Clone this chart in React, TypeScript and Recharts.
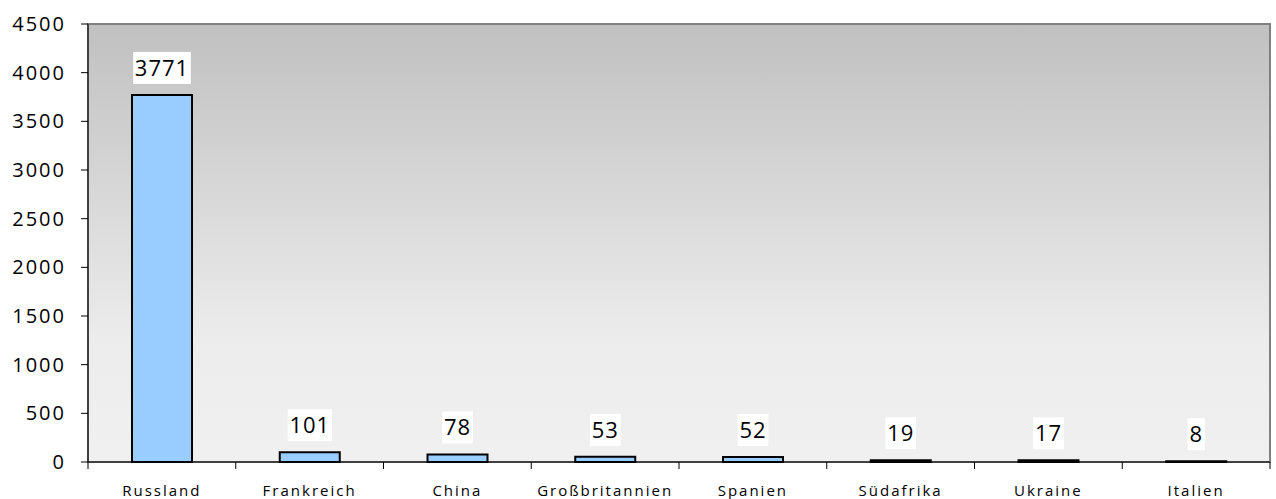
import React from 'react';
import { BarChart, Bar, XAxis, YAxis, ReferenceArea, LabelList } from 'recharts';

const countries = ['Russland', 'Frankreich', 'China', 'Großbritannien', 'Spanien', 'Südafrika', 'Ukraine', 'Italien'];
const values = [3771, 101, 78, 53, 52, 19, 17, 8];
const yTicks = [0, 500, 1000, 1500, 2000, 2500, 3000, 3500, 4000, 4500];

const data = countries.map((c, i) => ({ name: c, value: values[i] }));

const FONT = "'Open Sans', 'DejaVu Sans', sans-serif";

const XTick = (props: any) => {
  const { x, y, payload, index, width, visibleTicksCount } = props;
  const n = visibleTicksCount || countries.length;
  const bw = (width || 1182) / n;
  const left = x - bw / 2;
  return (
    <g>
      <line x1={left} y1={y} x2={left} y2={y + 7} stroke="#000" strokeWidth={1} />
      {index === n - 1 && (
        <line x1={x + bw / 2} y1={y} x2={x + bw / 2} y2={y + 7} stroke="#000" strokeWidth={1} />
      )}
      <text x={x} y={y + 34} textAnchor="middle" fontFamily={FONT} fontSize={15} letterSpacing={2} fill="#000">
        {payload.value}
      </text>
    </g>
  );
};

const ValueLabel = (props: any) => {
  const { x, y, width, value } = props;
  const cx = x + width / 2;
  const cy = y - 27;
  const s = String(value);
  const tw = s.length * 13.4 + 4;
  return (
    <g>
      <rect x={cx - tw / 2} y={cy - 16} width={tw} height={32} fill="#fff" />
      <text x={cx} y={cy} dy="0.36em" textAnchor="middle" fontFamily={FONT} fontSize={22} letterSpacing={1} fill="#000">
        {s}
      </text>
    </g>
  );
};

export default function App() {
  return (
    <div style={{ position: 'absolute', left: 0, top: 0, width: 1276, height: 499, background: '#fff' }}>
      <BarChart width={1276} height={499} data={data} margin={{ top: 24, right: 6, bottom: 0, left: 0 }} barCategoryGap={0}>
        <defs>
          <linearGradient id="bg" x1="0" y1="0" x2="0" y2="1">
            <stop offset="0%" stopColor="#c0c0c0" />
            <stop offset="72%" stopColor="#ececec" />
            <stop offset="100%" stopColor="#f0f0f0" />
          </linearGradient>
        </defs>
        <ReferenceArea y1={0} y2={4500} fill="url(#bg)" fillOpacity={1} stroke="#808080" strokeWidth={2} ifOverflow="extendDomain" />
        <XAxis
          dataKey="name"
          height={37}
          tickSize={0}
          tickMargin={0}
          tickLine={false}
          axisLine={{ stroke: '#000', strokeWidth: 1 }}
          tick={<XTick />}
          interval={0}
        />
        <YAxis
          width={88}
          domain={[0, 4500]}
          ticks={yTicks}
          interval={0}
          tickSize={7}
          tickMargin={15}
          axisLine={{ stroke: '#000', strokeWidth: 1 }}
          tickLine={{ stroke: '#000', strokeWidth: 1 }}
          tick={{ fontFamily: FONT, fontSize: 20, fill: '#000', letterSpacing: 2 }}
        />
        <Bar dataKey="value" fill="#99ccff" stroke="#000" strokeWidth={2} barSize={60} isAnimationActive={false}>
          <LabelList dataKey="value" content={<ValueLabel />} />
        </Bar>
      </BarChart>
    </div>
  );
}
